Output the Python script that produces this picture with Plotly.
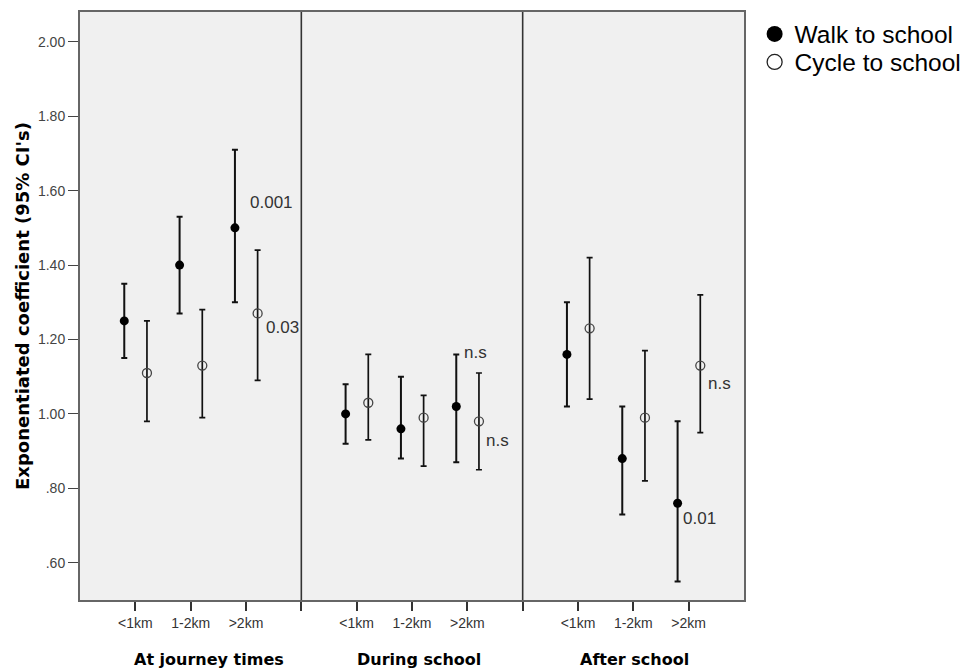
import plotly.graph_objects as go

# ---------------- data ----------------
groups = ["At journey times", "During school", "After school"]
categories = ["<1km", "1-2km", ">2km"]

walk_est = [1.25, 1.40, 1.50, 1.00, 0.96, 1.02, 1.16, 0.88, 0.76]
walk_lo = [1.15, 1.27, 1.30, 0.92, 0.88, 0.87, 1.02, 0.73, 0.55]
walk_hi = [1.35, 1.53, 1.71, 1.08, 1.10, 1.16, 1.30, 1.02, 0.98]

cycle_est = [1.11, 1.13, 1.27, 1.03, 0.99, 0.98, 1.23, 0.99, 1.13]
cycle_lo = [0.98, 0.99, 1.09, 0.93, 0.86, 0.85, 1.04, 0.82, 0.95]
cycle_hi = [1.25, 1.28, 1.44, 1.16, 1.05, 1.11, 1.42, 1.17, 1.32]

y_tick_vals = [0.6, 0.8, 1.0, 1.2, 1.4, 1.6, 1.8, 2.0]
y_tick_text = [".60", ".80", "1.00", "1.20", "1.40", "1.60", "1.80", "2.00"]

# p-value labels: (series, index, text)
p_labels = [
    ("walk", 2, "0.001"),
    ("cycle", 2, "0.03"),
    ("walk", 5, "n.s"),
    ("cycle", 5, "n.s"),
    ("cycle", 8, "n.s"),
    ("walk", 8, "0.01"),
]

# ---------------- positions on the numeric category axis ----------------
n_cat = len(categories)
slot = n_cat + 1
base = [g * slot + c + 1 for g in range(len(groups)) for c in range(n_cat)]
WALK_OFF, CYCLE_OFF = -0.2, 0.21
walk_x = [b + WALK_OFF for b in base]
cycle_x = [b + CYCLE_OFF for b in base]

TXT = "Liberation Sans, Arial, sans-serif"
BOLD = "DejaVu Sans, Verdana, sans-serif"

fig = go.Figure()

fig.add_trace(go.Scatter(
    x=walk_x, y=walk_est, mode="markers", name="Walk to school",
    legendgroup="walk", showlegend=False,
    marker=dict(symbol="circle", size=9, color="black"),
    error_y=dict(type="data", symmetric=False,
                 array=[h - e for h, e in zip(walk_hi, walk_est)],
                 arrayminus=[e - l for e, l in zip(walk_est, walk_lo)],
                 color="#111111", thickness=2, width=3),
))
fig.add_trace(go.Scatter(
    x=cycle_x, y=cycle_est, mode="markers", name="Cycle to school",
    legendgroup="cycle", showlegend=False,
    marker=dict(symbol="circle-open", size=9, color="#444444",
                line=dict(width=1.3, color="#444444")),
    error_y=dict(type="data", symmetric=False,
                 array=[h - e for h, e in zip(cycle_hi, cycle_est)],
                 arrayminus=[e - l for e, l in zip(cycle_est, cycle_lo)],
                 color="#111111", thickness=1.7, width=3),
))
# legend entries
fig.add_trace(go.Scatter(x=[None], y=[None], mode="markers", name="Walk to school",
                         legendgroup="walk", legend="legend",
                         marker=dict(symbol="circle", size=16, color="black")))
fig.add_trace(go.Scatter(x=[None], y=[None], mode="markers", name="Cycle to school",
                         legendgroup="cycle", legend="legend2",
                         marker=dict(symbol="circle-open", size=15, color="#222222",
                                     line=dict(width=1.3, color="#222222"))))

# p-value annotations
series = {"walk": (walk_x, walk_est), "cycle": (cycle_x, cycle_est)}
p_offsets = {  # (dx, dy) in axis units relative to the point
    ("walk", 2): (0.24, 0.069),
    ("cycle", 2): (0.12, -0.039),
    ("walk", 5): (0.10, 0.144),
    ("cycle", 5): (0.09, -0.052),
    ("cycle", 8): (0.10, -0.047),
    ("walk", 8): (0.06, -0.042),
}
for s, i, t in p_labels:
    xs, ys = series[s]
    dx, dy = p_offsets[(s, i)]
    fig.add_annotation(x=xs[i] + dx, y=ys[i] + dy, text=t, showarrow=False,
                       xanchor="left", yanchor="middle",
                       font=dict(family=TXT, size=17, color="#333333"))

# group titles
group_centers = [2.33, 6.13, 10.03]
for g, cx in zip(groups, group_centers):
    fig.add_annotation(x=cx, xref="x", y=-59 / 588, yref="paper", text=f"<b>{g}</b>",
                       showarrow=False, xanchor="center", yanchor="middle",
                       font=dict(family=BOLD, size=16, color="black"))

# panel dividers
for g in range(1, len(groups)):
    fig.add_shape(type="line", x0=g * slot, x1=g * slot, xref="x",
                  y0=0, y1=1, yref="paper",
                  line=dict(color="#333333", width=1.6))

tick_vals = []
tick_text = []
for g in range(len(groups)):
    for c, lab in enumerate(categories):
        tick_vals.append(g * slot + c + 1)
        tick_text.append(lab)
    if g < len(groups) - 1:
        tick_vals.append((g + 1) * slot)
        tick_text.append("")

legend_style = dict(xanchor="left", yanchor="middle",
                    font=dict(family=TXT, size=24.5, color="black"),
                    bgcolor="rgba(0,0,0,0)",
                    itemclick=False, itemdoubleclick=False)

fig.update_layout(
    width=972, height=669,
    margin=dict(l=80, r=228, t=12, b=69, autoexpand=False),
    paper_bgcolor="white", plot_bgcolor="#F0F0F0",
    showlegend=True,
    legend=dict(x=1.016, y=(600 - 34) / 588, **legend_style),
    legend2=dict(x=1.016, y=(600 - 62) / 588, **legend_style),
    font=dict(family=TXT),
)
fig.update_xaxes(
    range=[0, len(groups) * slot], showgrid=False, zeroline=False,
    tickmode="array", tickvals=tick_vals, ticktext=tick_text,
    ticks="outside", ticklen=9, tickwidth=1.6, tickcolor="#333333",
    tickfont=dict(family=TXT, size=14, color="#333333"),
    showline=True, linecolor="#666666", linewidth=2, mirror=True,
)
fig.update_yaxes(
    range=[0.5, 2.08], showgrid=False, zeroline=False,
    tickmode="array", tickvals=y_tick_vals, ticktext=y_tick_text,
    ticks="outside", ticklen=10, tickwidth=1.3, tickcolor="#444444",
    tickfont=dict(family=TXT, size=14, color="#444444"),
    showline=True, linecolor="#666666", linewidth=2, mirror=True,
    title=dict(text="<b>Exponentiated coefficient (95% CI's)</b>",
               font=dict(family=BOLD, size=18, color="black"), standoff=4),
)

fig.write_html("out.html")
